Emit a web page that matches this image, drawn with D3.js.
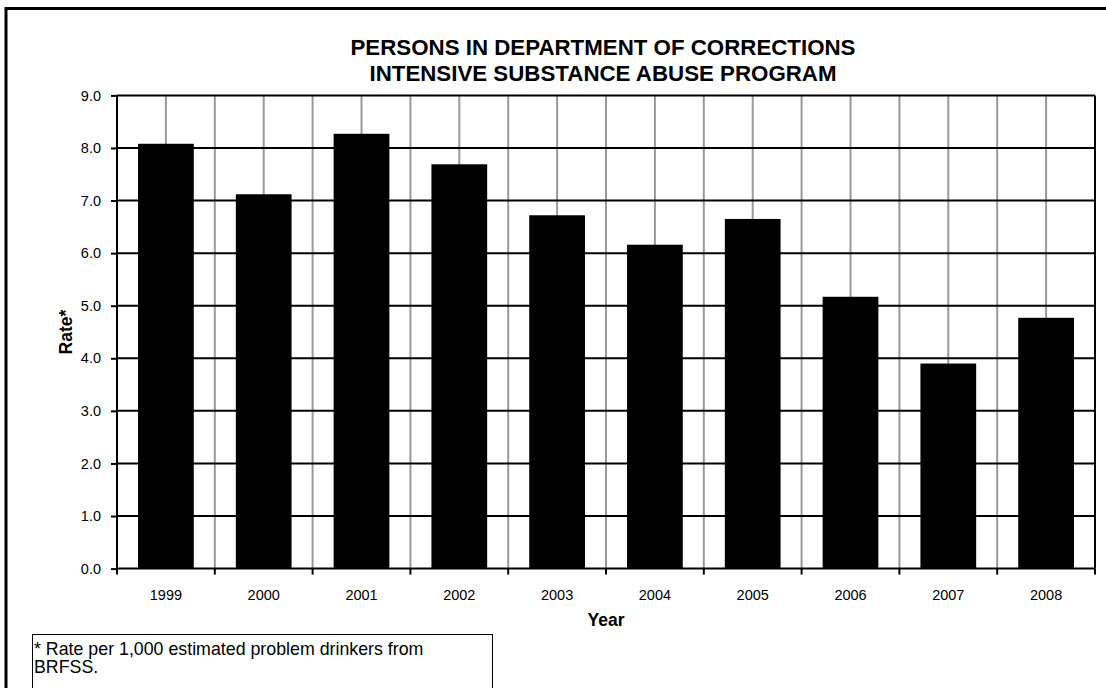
<!DOCTYPE html>
<html><head><meta charset="utf-8">
<script src="https://cdn.jsdelivr.net/npm/d3@7"></script>
<style>body{margin:0;background:#fff}svg{display:block;font-family:"Liberation Sans",Arial,sans-serif}</style>
</head><body>
<svg id="c" width="1106" height="688"></svg>
<script>
const years = ["1999","2000","2001","2002","2003","2004","2005","2006","2007","2008"];
const rates = [8.08, 7.12, 8.27, 7.69, 6.72, 6.16, 6.65, 5.17, 3.90, 4.77];
const yTicks = [0,1,2,3,4,5,6,7,8,9];
const titleLines = ["PERSONS IN DEPARTMENT OF CORRECTIONS","INTENSIVE SUBSTANCE ABUSE PROGRAM"];
const footLines = ["* Rate per 1,000 estimated problem drinkers from","BRFSS."];

const svg = d3.select("#c");
const L=117, R=1095, T=95.4, B=568.6;
const x = d3.scaleBand().domain(years).range([L,R]).paddingInner(0.43).paddingOuter(0.215);
const xb = d3.scaleBand().domain(years).range([L,R]);
const y = d3.scaleLinear().domain([0,9]).range([B,T]);

// outer frame
svg.append("rect").attr("x",6).attr("y",8.5).attr("width",1110).attr("height",700)
  .attr("fill","none").attr("stroke","#000").attr("stroke-width",3);

// vertical grid (gray) at boundaries and centers
const vx = [];
years.forEach(d=>{vx.push(xb(d)); vx.push(xb(d)+xb.bandwidth()/2);});
svg.append("g").selectAll("line").data(vx.slice(1)).join("line")
  .attr("x1",d=>d).attr("x2",d=>d).attr("y1",T).attr("y2",B)
  .attr("stroke","#999").attr("stroke-width",2);
// horizontal grid (black)
svg.append("g").selectAll("line").data(yTicks.slice(1)).join("line")
  .attr("x1",L).attr("x2",R).attr("y1",d=>y(d)).attr("y2",d=>y(d))
  .attr("stroke","#000").attr("stroke-width",2);
// right border
svg.append("line").attr("x1",R).attr("x2",R).attr("y1",T).attr("y2",B).attr("stroke","#000").attr("stroke-width",2);

// bars
svg.append("g").selectAll("rect").data(years).join("rect")
  .attr("x",d=>x(d)).attr("width",x.bandwidth())
  .attr("y",(d,i)=>y(rates[i])).attr("height",(d,i)=>B-y(rates[i]))
  .attr("fill","#000");

// y axis
const ya = svg.append("g").attr("transform",`translate(${L},0)`)
  .call(d3.axisLeft(y).tickValues(yTicks).tickFormat(d3.format(".1f")).tickSize(6).tickPadding(10));
ya.select(".domain").attr("stroke","#000").attr("stroke-width",2).attr("d",`M0,${T}V${B}`);
ya.selectAll(".tick line").attr("stroke","#000").attr("stroke-width",2);
ya.selectAll("text").attr("font-size",14.5).attr("fill","#000").attr("font-family","Liberation Sans, Arial");

// x axis
const xa = svg.append("g").attr("transform",`translate(0,${B})`)
  .call(d3.axisBottom(xb).tickSize(0).tickPadding(21));
xa.select(".domain").attr("stroke","#000").attr("stroke-width",2).attr("d",`M${L},0H${R}`);
xa.selectAll("text").attr("font-size",14.5).attr("fill","#000").attr("font-family","Liberation Sans, Arial");
svg.append("g").selectAll("line").data(years.map(d=>xb(d)+xb.bandwidth()).concat([L])).join("line")
  .attr("x1",d=>d).attr("x2",d=>d).attr("y1",B).attr("y2",B+6).attr("stroke","#000").attr("stroke-width",2);

// title
svg.append("g").selectAll("text").data(titleLines).join("text")
  .attr("x",603).attr("y",(d,i)=>55+i*26).attr("text-anchor","middle")
  .attr("font-size",22.3).attr("font-weight","bold").text(d=>d);

// axis titles
svg.append("text").attr("x",606).attr("y",626).attr("text-anchor","middle")
  .attr("font-size",17.5).attr("font-weight","bold").text("Year");
svg.append("text").attr("transform","translate(72,332) rotate(-90)").attr("text-anchor","middle")
  .attr("font-size",17.5).attr("font-weight","bold").text("Rate*");

// footnote
svg.append("rect").attr("x",32.5).attr("y",634.5).attr("width",460).attr("height",60)
  .attr("fill","#fff").attr("stroke","#000").attr("stroke-width",1);
svg.append("g").selectAll("text").data(footLines).join("text")
  .attr("x",34).attr("y",(d,i)=>655+i*18).attr("font-size",17.8).text(d=>d);
</script>
</body></html>
